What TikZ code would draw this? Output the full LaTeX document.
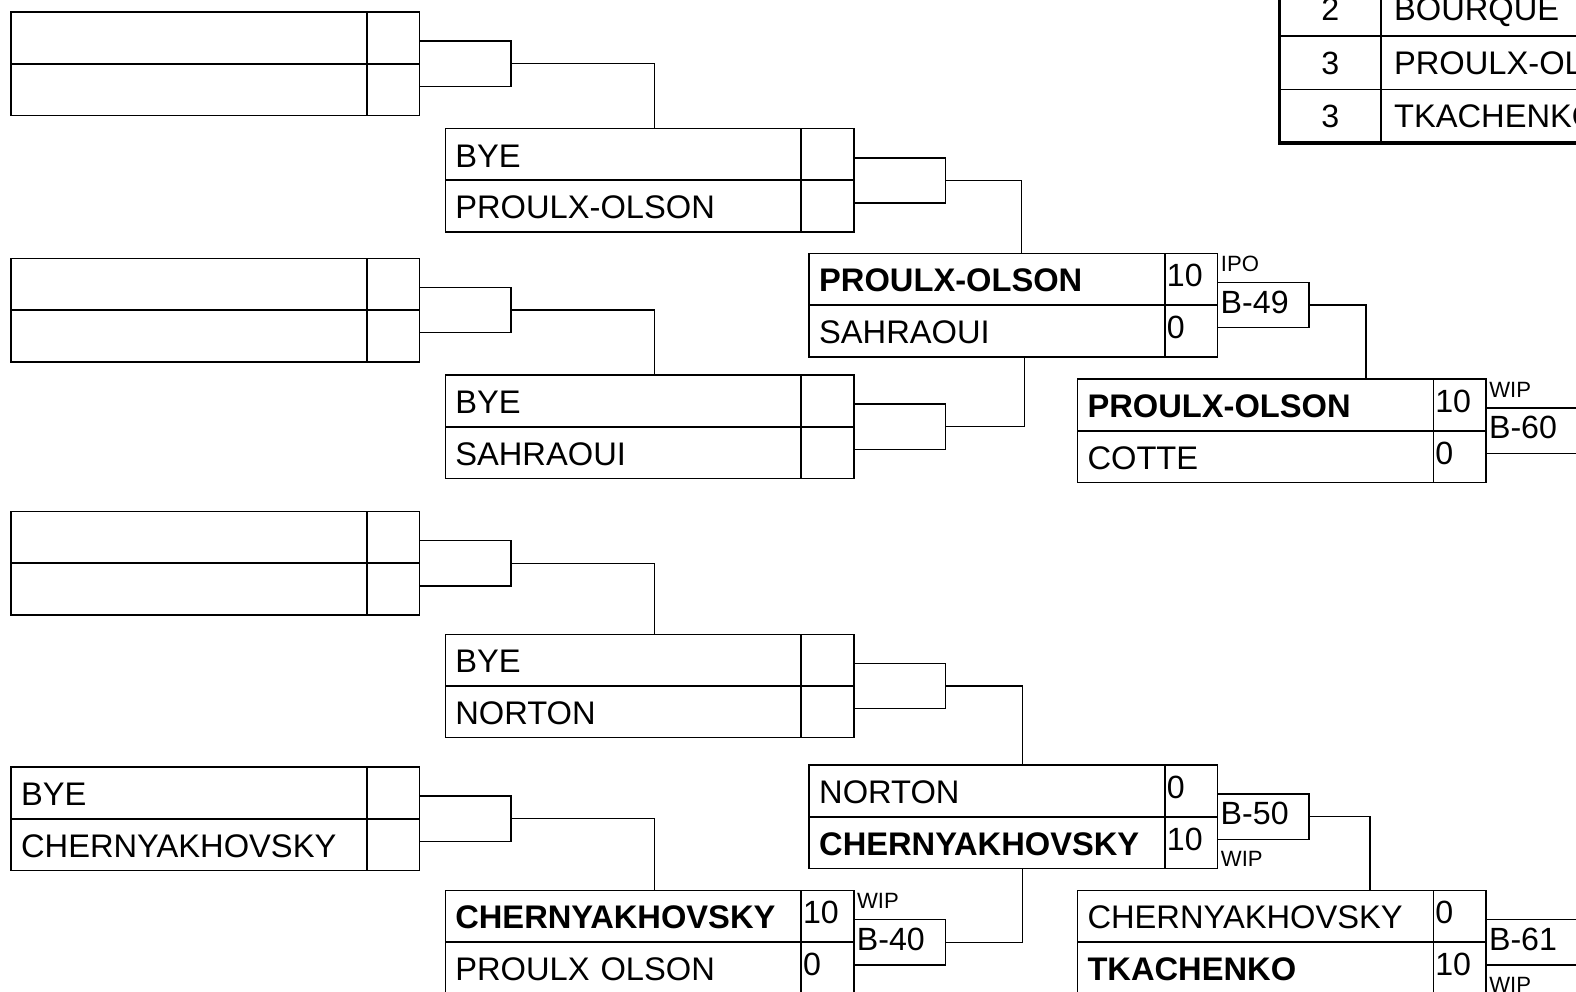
\documentclass[tikz,border=0pt]{standalone}
\usepackage{fontspec}
\setmainfont{Liberation Sans}
\usetikzlibrary{calc}
\newcommand{\bout}[8]{%
	\node[namecell] (#1-top) at (#2, #3) {#4};
	\node[scorecell] (#1-topsc) at (#1-top.north east) {#5};
	\node[namecell] (#1-bot) at (#1-top.south west) {#6};
	\node[scorecell] (#1-botsc) at (#1-bot.north east) {#7};
	\draw[line width=0.7mm] (#1-bot.north west) -- (#1-botsc.north east);
	\node[stubbox] (#1-stub) at (#1-topsc.south east) {#8};
}
\tikzset{
	namecell/.style={draw, line width=0.5mm, outer sep=0pt, anchor=north west, minimum width=354pt, minimum height=51.5pt, inner xsep=10pt, text width=334pt, align=left, text height=25pt, text depth=0pt, font=\fontsize{32.5}{36}\selectfont},
	scorecell/.style={draw, line width=0.5mm, outer sep=0pt, anchor=north west, minimum width=52.5pt, minimum height=51.5pt, inner xsep=2pt, text width=48.5pt, align=left, text height=15pt, text depth=0pt, font=\fontsize{32}{36}\selectfont},
	stubbox/.style={draw, line width=0.5mm, outer sep=0pt, anchor=west, minimum width=91pt, minimum height=45pt, inner xsep=3pt, text width=85pt, align=left, text height=16pt, text depth=0pt, font=\fontsize{32}{36}\selectfont},
	tagtext/.style={inner xsep=3pt, inner ysep=0pt, anchor=base west, font=\fontsize{22}{24}\selectfont},
	wire/.style={line width=0.45mm},
	rankcell/.style={draw, line width=0.55mm, outer sep=0pt, anchor=north west, minimum width=101pt, minimum height=53.3pt, text height=23pt, text depth=0pt, font=\fontsize{32}{36}\selectfont},
	listcell/.style={draw, line width=0.55mm, outer sep=0pt, anchor=north west, minimum width=420pt, minimum height=53.3pt, inner xsep=13pt, text width=394pt, align=left, text height=23pt, text depth=0pt, font=\fontsize{32.5}{36}\selectfont}
}

\begin{document}
\begin{tikzpicture}[x=1pt, y=-1pt]
			%%%%% START %%%%%
			\useasboundingbox (0, 0) rectangle (1568, 986);
			\fill[white] (0, 0) rectangle (1568, 986);
			\clip (0, 0) rectangle (1568, 986);
			
			% first round
			\bout{r1a}{11}{12}{}{}{}{}{}
			\bout{r1b}{11}{257}{}{}{}{}{}
			\bout{r1c}{11}{509}{}{}{}{}{}
			\bout{r1d}{11}{763}{BYE}{}{CHERNYAKHOVSKY}{}{}
			
			% second round
			\bout{r2a}{443}{128}{BYE}{}{PROULX-OLSON}{}{}
			\bout{r2b}{443}{373}{BYE}{}{SAHRAOUI}{}{}
			\bout{r2c}{443}{631}{BYE}{}{NORTON}{}{}
			\bout{r2d}{443}{886}{\textbf{CHERNYAKHOVSKY}}{10}{PROULX OLSON}{0}{B-40}
			\node[tagtext] (r2d-tag) at ([yshift=11pt]r2d-stub.north west) {WIP};
			
			% third round
			\bout{r3a}{805}{252}{\textbf{PROULX-OLSON}}{10}{SAHRAOUI}{0}{B-49}
			\node[tagtext] (r3a-tag) at ([yshift=11pt]r3a-stub.north west) {IPO};
			\bout{r3b}{805}{761}{NORTON}{0}{\textbf{CHERNYAKHOVSKY}}{10}{B-50}
			\node[tagtext] (r3b-tag) at ([yshift=-27pt]r3b-stub.south west) {WIP};
			
			% fourth round
			\bout{r4a}{1072}{377}{\textbf{PROULX-OLSON}}{10}{COTTE}{0}{B-60}
			\node[tagtext] (r4a-tag) at ([yshift=11pt]r4a-stub.north west) {WIP};
			\bout{r4b}{1072}{886}{CHERNYAKHOVSKY}{0}{\textbf{TKACHENKO}}{10}{B-61}
			\node[tagtext] (r4b-tag) at ([yshift=-27pt]r4b-stub.south west) {WIP};
			
			% connectors
			\draw[wire] (r1a-stub.east) -| ([xshift=208pt]r2a-top.north west);
			\draw[wire] (r1b-stub.east) -| ([xshift=208pt]r2b-top.north west);
			\draw[wire] (r1c-stub.east) -| ([xshift=208pt]r2c-top.north west);
			\draw[wire] (r1d-stub.east) -| ([xshift=208pt]r2d-top.north west);
			\draw[wire] (r2a-stub.east) -| ([xshift=211pt]r3a-top.north west);
			\draw[wire] (r2b-stub.east) -| ([xshift=214pt]r3a-bot.south west);
			\draw[wire] (r2c-stub.east) -| ([xshift=212pt]r3b-top.north west);
			\draw[wire] (r2d-stub.east) -| ([xshift=212pt]r3b-bot.south west);
			\draw[wire] (r3a-stub.east) -| ([xshift=287pt]r4a-top.north west);
			\draw[wire] (r3b-stub.east) -| ([xshift=291pt]r4b-top.north west);
			
			% standings
			\node[rankcell] (t1-rank) at (1273, -17.5) {2};
			\node[listcell] (t1-name) at (t1-rank.north east) {BOURQUE};
			\node[rankcell] (t2-rank) at (t1-rank.south west) {3};
			\node[listcell] (t2-name) at (t2-rank.north east) {PROULX-OLSON};
			\node[rankcell] (t3-rank) at (t2-rank.south west) {3};
			\node[listcell] (t3-name) at (t3-rank.north east) {TKACHENKO};
			\draw[line width=1.3mm] (t1-rank.north west) rectangle (t3-name.south east);
			
			%%%%% END %%%%%
\end{tikzpicture}
\end{document}
